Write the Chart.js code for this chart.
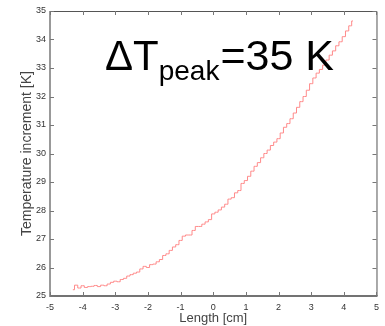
<!DOCTYPE html>
<html>
<head>
<meta charset="utf-8">
<script src="https://cdn.jsdelivr.net/npm/chart.js@4.4.0/dist/chart.umd.min.js"></script>
<style>
  html, body { margin: 0; padding: 0; background: #ffffff; }
  #wrap { width: 385px; height: 326px; }
</style>
</head>
<body>
<div id="wrap"><canvas id="chart" width="385" height="326"></canvas></div>
<script>
// Position along the sample (cm) and measured temperature increment (K)
const lengthCm = [
  -4.3, -4.2, -4.1, -4.0, -3.9, -3.8, -3.7, -3.6, -3.5, -3.4,
  -3.3, -3.2, -3.1, -3.0, -2.9, -2.8, -2.7, -2.6, -2.5, -2.4,
  -2.3, -2.2, -2.1, -2.0, -1.9, -1.8, -1.7, -1.6, -1.5, -1.4,
  -1.3, -1.2, -1.1, -1.0, -0.9, -0.8, -0.7, -0.6, -0.5, -0.4,
  -0.3, -0.2, -0.1, 0.0, 0.1, 0.2, 0.3, 0.4, 0.5, 0.6,
  0.7, 0.8, 0.9, 1.0, 1.1, 1.2, 1.3, 1.4, 1.5, 1.6,
  1.7, 1.8, 1.9, 2.0, 2.1, 2.2, 2.3, 2.4, 2.5, 2.6,
  2.7, 2.8, 2.9, 3.0, 3.1, 3.2, 3.3, 3.4, 3.5, 3.6,
  3.7, 3.8, 3.9, 4.0, 4.1, 4.2, 4.28
];
const tempIncrement = [
  25.22, 25.38, 25.28, 25.36, 25.30, 25.33, 25.34, 25.37, 25.33, 25.38,
  25.36, 25.42, 25.48, 25.52, 25.50, 25.58, 25.62, 25.70, 25.75, 25.80,
  25.84, 25.95, 26.04, 26.00, 26.10, 26.12, 26.20, 26.28, 26.42, 26.48,
  26.60, 26.72, 26.80, 26.95, 27.10, 27.14, 27.14, 27.30, 27.44, 27.44,
  27.52, 27.60, 27.68, 27.88, 27.94, 28.02, 28.12, 28.22, 28.40, 28.45,
  28.62, 28.70, 28.95, 29.05, 29.20, 29.38, 29.55, 29.68, 29.85, 30.00,
  30.12, 30.28, 30.40, 30.52, 30.72, 30.92, 31.05, 31.22, 31.42, 31.62,
  31.82, 32.00, 32.22, 32.45, 32.65, 32.82, 32.95, 33.10, 33.28, 33.45,
  33.60, 33.78, 33.92, 34.10, 34.30, 34.48, 34.65
];
const xTicks = [-5, -4, -3, -2, -1, 0, 1, 2, 3, 4, 5];
const yTicks = [25, 26, 27, 28, 29, 30, 31, 32, 33, 34, 35];

const FONT = "'Liberation Sans Narrow', 'Liberation Sans', Arial, sans-serif";
const SANS = "'Liberation Sans', Arial, sans-serif";

// Frame, inner ticks on all four sides, and the big annotation
const framePlugin = {
  id: 'frame',
  afterDraw(chart) {
    const { ctx, chartArea: a, scales } = chart;
    const x = scales.x, y = scales.y;
    ctx.save();
    // top + right thin border
    ctx.strokeStyle = '#555555';
    ctx.lineWidth = 1;
    ctx.beginPath();
    ctx.moveTo(a.left, a.top + 0.5);
    ctx.lineTo(a.right + 0.5, a.top + 0.5);
    ctx.lineTo(a.right + 0.5, a.bottom);
    ctx.stroke();
    // bottom axis
    ctx.strokeStyle = '#444444';
    ctx.lineWidth = 1.5;
    ctx.beginPath();
    ctx.moveTo(a.left, a.bottom);
    ctx.lineTo(a.right + 1, a.bottom);
    ctx.stroke();
    // left axis
    ctx.strokeStyle = '#999999';
    ctx.lineWidth = 2;
    ctx.beginPath();
    ctx.moveTo(a.left, a.top);
    ctx.lineTo(a.left, a.bottom + 1);
    ctx.stroke();
    // inner ticks
    ctx.strokeStyle = '#777777';
    ctx.lineWidth = 1;
    ctx.beginPath();
    xTicks.forEach(v => {
      const px = Math.round(x.getPixelForValue(v)) + 0.5;
      ctx.moveTo(px, a.bottom); ctx.lineTo(px, a.bottom - 4);
      ctx.moveTo(px, a.top); ctx.lineTo(px, a.top + 4);
    });
    yTicks.forEach(v => {
      const py = Math.round(y.getPixelForValue(v)) + 0.5;
      ctx.moveTo(a.left, py); ctx.lineTo(a.left + 4, py);
      ctx.moveTo(a.right, py); ctx.lineTo(a.right - 4, py);
    });
    ctx.stroke();
    // annotation  ΔT_peak = 35 K
    ctx.fillStyle = '#000000';
    ctx.textBaseline = 'alphabetic';
    ctx.textAlign = 'left';
    ctx.font = '42px ' + SANS;
    let tx = 105;
    ctx.fillText('ΔT', tx, 70);
    tx += ctx.measureText('ΔT').width;
    ctx.font = '28px ' + SANS;
    ctx.fillText('peak', tx, 80);
    tx += ctx.measureText('peak').width + 1;
    ctx.font = '43px ' + SANS;
    ctx.fillText('=35 K', tx, 70);
    ctx.restore();
  }
};

new Chart(document.getElementById('chart'), {
  type: 'line',
  data: {
    datasets: [{
      label: 'ΔT',
      data: lengthCm.map((v, i) => ({ x: v, y: tempIncrement[i] })),
      borderColor: '#ff8a8a',
      borderWidth: 1,
      pointRadius: 0,
      stepped: 'middle',
      fill: false
    }]
  },
  options: {
    responsive: false,
    animation: false,
    layout: { padding: { top: 11, right: 8, left: 0, bottom: 0 } },
    plugins: {
      legend: { display: false },
      tooltip: { enabled: false }
    },
    scales: {
      x: {
        type: 'linear',
        min: -5,
        max: 5,
        afterFit: s => { s.height = 30; },
        afterBuildTicks: s => { s.ticks = xTicks.map(v => ({ value: v })); },
        grid: { display: false, drawTicks: false, tickLength: 0 },
        border: { display: false },
        ticks: {
          color: '#333333',
          padding: 6,
          maxRotation: 0,
          font: { family: FONT, size: 9 }
        },
        title: {
          display: true,
          text: 'Length [cm]',
          color: '#444444',
          padding: { top: 1, bottom: 0 },
          font: { family: FONT, size: 13 }
        }
      },
      y: {
        type: 'linear',
        min: 25,
        max: 35,
        afterFit: s => { s.width = 50; },
        afterBuildTicks: s => { s.ticks = yTicks.map(v => ({ value: v })); },
        grid: { display: false, drawTicks: false, tickLength: 0 },
        border: { display: false },
        ticks: {
          color: '#333333',
          padding: 4,
          font: { family: FONT, size: 9 }
        },
        title: {
          display: true,
          text: 'Temperature increment [K]',
          color: '#444444',
          padding: { top: 19, bottom: 0 },
          font: { family: SANS, size: 14 }
        }
      }
    }
  },
  plugins: [framePlugin]
});
</script>
</body>
</html>
